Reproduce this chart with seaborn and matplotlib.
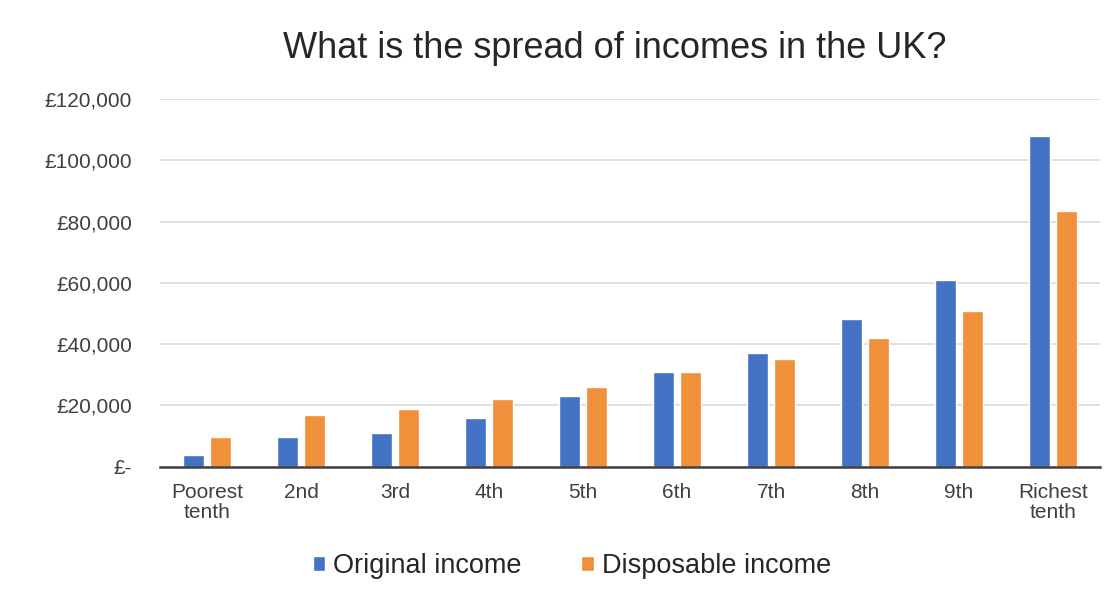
import matplotlib
matplotlib.use("Agg")
import matplotlib.pyplot as plt
import seaborn as sns
import pandas as pd

categories = ["Poorest\ntenth", "2nd", "3rd", "4th", "5th", "6th", "7th", "8th", "9th", "Richest\ntenth"]
original_income = [3700, 9500, 10800, 16000, 22900, 30900, 37200, 48300, 60800, 108000]
disposable_income = [9500, 16800, 18700, 22200, 26000, 30900, 35200, 42000, 50700, 83400]
series_names = ["Original income", "Disposable income"]
ytick_values = [0, 20000, 40000, 60000, 80000, 100000, 120000]
ytick_labels = ["£-", "£20,000", "£40,000", "£60,000", "£80,000", "£100,000", "£120,000"]
title = "What is the spread of incomes in the UK?"

df = pd.DataFrame({
    "category": categories * 2,
    "value": original_income + disposable_income,
    "series": [series_names[0]] * len(categories) + [series_names[1]] * len(categories),
})

sns.set_theme(style="white")
plt.rcParams["font.family"] = ["Liberation Sans", "DejaVu Sans"]

fig = plt.figure(figsize=(11.2, 5.94), dpi=100)
ax = fig.add_axes([160 / 1120, 1 - 466.5 / 594, 940 / 1120, (466.5 - 99) / 594])

palette = {series_names[0]: "#4472C4", series_names[1]: "#F0903A"}
sns.barplot(data=df, x="category", y="value", hue="series", order=categories,
            hue_order=series_names, palette=palette, width=0.58, gap=0.22,
            saturation=1, ax=ax, legend=True)

ax.set_xlim(-0.5, len(categories) - 0.5)
ax.set_ylim(0, 120000)
ax.set_yticks(ytick_values)
ax.set_yticklabels(ytick_labels)
ax.grid(axis="y", color="#D9D9D9", linewidth=1.2)
ax.set_axisbelow(True)
for s in ["top", "right", "left"]:
    ax.spines[s].set_visible(False)
ax.spines["bottom"].set_color("#404040")
ax.spines["bottom"].set_linewidth(1.8)
ax.set_xlabel("")
ax.set_ylabel("")
ax.tick_params(axis="both", length=0, colors="#404040")
ax.tick_params(axis="y", pad=20, labelsize=15)
ax.tick_params(axis="x", pad=12, labelsize=15)
for lbl in ax.get_xticklabels():
    lbl.set_linespacing(1.05)

fig.text(615 / 1120, 1 - 48 / 594, title, ha="center", va="center",
         fontsize=26, color="#262626")

handles, labels = ax.get_legend_handles_labels()
ax.legend_.remove()
fig.legend(handles, labels, loc="center", bbox_to_anchor=(572 / 1120, 1 - 566 / 594),
           ncol=2, frameon=False, fontsize=19.5, handlelength=0.45, handleheight=0.45,
           handletextpad=0.3, columnspacing=2.2, labelcolor="#262626")

fig.savefig("out.png", dpi=100, facecolor="white")
